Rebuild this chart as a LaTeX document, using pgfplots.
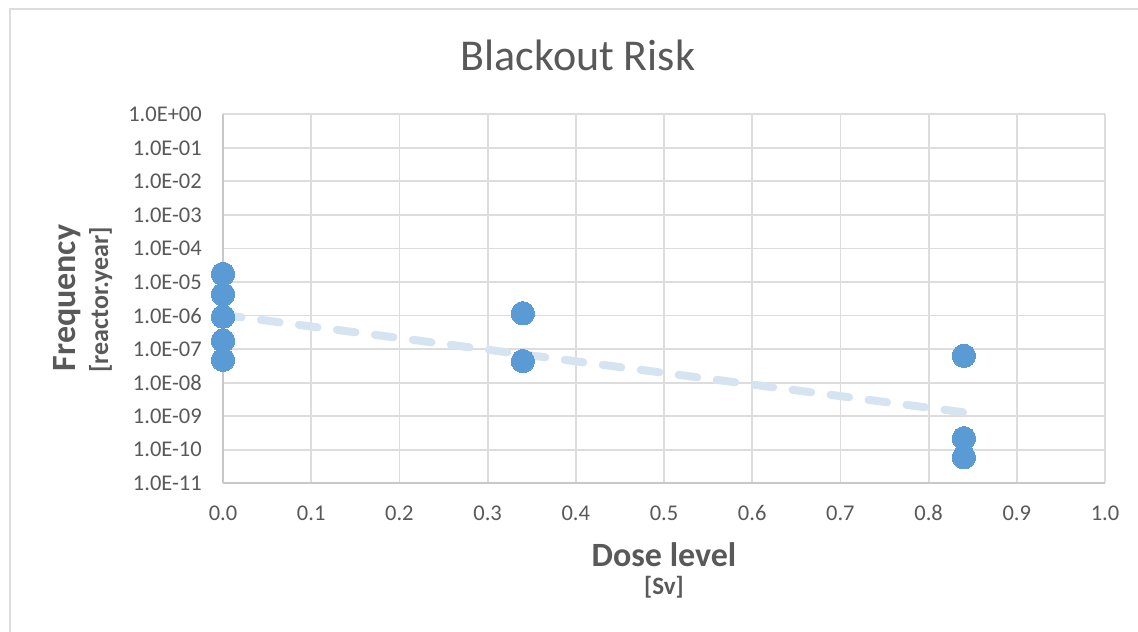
\documentclass[border=0pt]{standalone}
\usepackage{pgfplots}
\pgfplotsset{compat=1.18}
\usepackage{fontspec}
\setmainfont{Carlito}
\definecolor{txt}{HTML}{595959}
\definecolor{gridc}{HTML}{DDDDDD}
\definecolor{axc}{HTML}{C8C8C8}
\definecolor{ptc}{HTML}{5B9BD5}
\definecolor{trc}{RGB}{214,228,242}
\begin{document}
\begin{tikzpicture}
\path[use as bounding box] (0,0) rectangle (1138bp,632bp);
\fill[white] (0,0) rectangle (1138bp,632bp);
\draw[gridc, line width=2bp] (9.5bp,0) -- (9.5bp,622.5bp) -- (1138bp,622.5bp);
\begin{axis}[
  at={(223bp,148.7bp)}, anchor=south west,
  width=882bp, height=369bp, scale only axis,
  xmin=0, xmax=1, ymin=1e-11, ymax=1, ymode=log,
  clip=false,
  axis x line*=bottom, axis y line*=left,
  axis line style={-, color=axc, line width=1.8bp},
  grid=major,
  major grid style={color=gridc, line width=1.8bp},
  major tick length=0pt,
  minor tick length=0pt,
  yminorticks=false, xminorticks=false,
  xtick={0,0.1,0.2,0.3,0.4,0.5,0.6,0.7,0.8,0.9,1.0},
  xticklabels={0.0,0.1,0.2,0.3,0.4,0.5,0.6,0.7,0.8,0.9,1.0},
  ytick={1e-11,1e-10,1e-9,1e-8,1e-7,1e-6,1e-5,1e-4,1e-3,1e-2,1e-1,1},
  yticklabels={1.0E-11,1.0E-10,1.0E-09,1.0E-08,1.0E-07,1.0E-06,1.0E-05,1.0E-04,1.0E-03,1.0E-02,1.0E-01,1.0E+00},
  /pgf/number format/assume math mode=true,
  ticklabel style={font=\fontsize{22.5bp}{26bp}\selectfont, text=txt, inner sep=0pt},
  xticklabel style={anchor=center, yshift=-30bp},
  yticklabel style={anchor=east, xshift=-21bp},
]
\addplot[trc, line width=8bp, line cap=round, dash pattern=on 18.7bp off 19.6bp] coordinates {(0,1.05e-6) (0.84,1.3e-9)};
\addplot[ptc, only marks, mark=*, mark size=11.7bp, mark options={draw=ptc, fill=ptc, line width=0pt}] coordinates {
(0,1.74e-5) (0,4.3e-6) (0,9.3e-7) (0,1.8e-7) (0,4.8e-8)
(0.34,1.17e-6) (0.34,4.4e-8)
(0.84,6.3e-8) (0.84,2.2e-10) (0.84,6.0e-11)
};
\end{axis}
\node[anchor=base, text=txt, font=\fontsize{44bp}{50bp}\selectfont, inner sep=0pt] at (578bp,561.3bp) {Blackout Risk};
\node[anchor=base, text=txt, font=\fontsize{34bp}{40bp}\selectfont\bfseries, inner sep=0pt] at (664bp,65.3bp) {Dose level};
\node[anchor=base, text=txt, font=\fontsize{25bp}{29bp}\selectfont\bfseries, inner sep=0pt] at (664bp,38bp) {[Sv]};
\node[anchor=base, rotate=90, text=txt, font=\fontsize{34bp}{40bp}\selectfont\bfseries, inner sep=0pt] at (75bp,334bp) {Frequency};
\node[anchor=base, rotate=90, text=txt, font=\fontsize{26bp}{30bp}\selectfont\bfseries, inner sep=0pt] at (108bp,332bp) {[reactor.year]};
\end{tikzpicture}
\end{document}
